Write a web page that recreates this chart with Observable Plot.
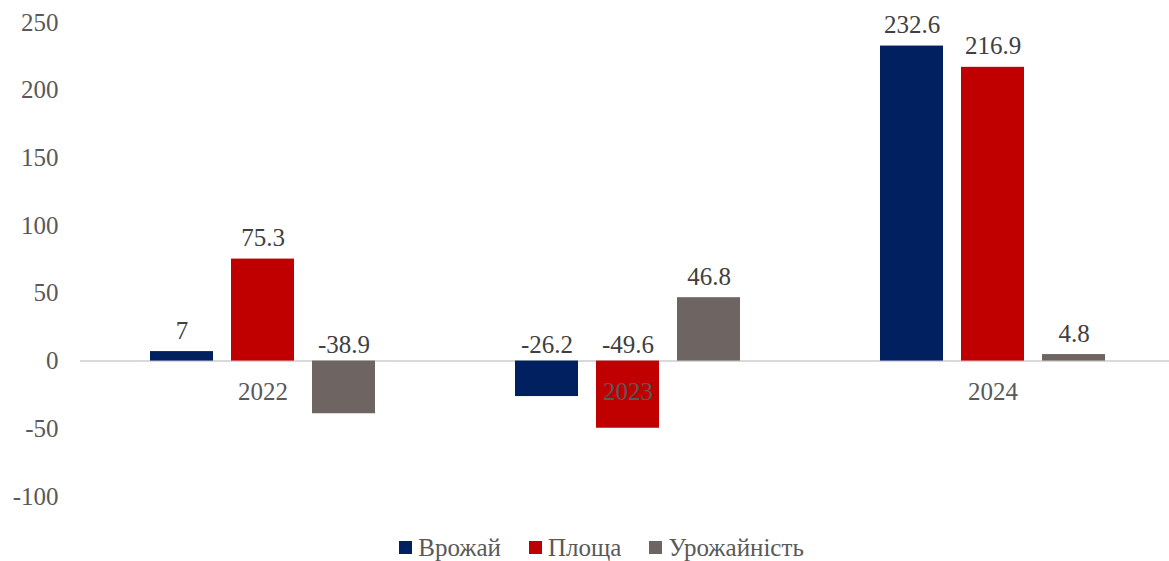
<!DOCTYPE html>
<html>
<head>
<meta charset="utf-8">
<script src="https://cdn.jsdelivr.net/npm/d3@7"></script>
<script src="https://cdn.jsdelivr.net/npm/@observablehq/plot@0.6"></script>
<style>
  html, body { margin: 0; background: #fff; font-family: "Liberation Serif", serif; overflow: hidden; }
  #chart { width: 1169px; height: 526px; overflow: hidden; }
  #chart svg { max-width: none !important; display: block; }
  #legend { width: 1169px; box-sizing: border-box; display: flex; justify-content: center; align-items: center; height: 39px; padding-top: 4px; font-size: 25px; color: #595959; padding-left: 34px; }
  .item { display: flex; align-items: center; margin: 0 14px; }
  .sw { width: 13px; height: 13px; margin-right: 6px; }
</style>
</head>
<body>
<div id="chart"></div>
<div id="legend"></div>
<script>
const years = ["2022", "2023", "2024"];
const seriesNames = ["Врожай", "Площа", "Урожайність"];
const harvest = [7, -26.2, 232.6];
const area = [75.3, -49.6, 216.9];
const yieldVals = [-38.9, 46.8, 4.8];
const colors = ["#002060", "#C00000", "#6E6462"];
const yTicks = [-100, -50, 0, 50, 100, 150, 200, 250];

const seriesValues = [harvest, area, yieldVals];
const data = [];
years.forEach((yr, i) => {
  seriesNames.forEach((s, j) => {
    data.push({year: yr, series: s, value: seriesValues[j][i]});
  });
});

const chart = Plot.plot({
  width: 1176,
  height: 526,
  marginLeft: 79,
  marginRight: 0,
  marginTop: 22,
  marginBottom: 30,
  style: {fontFamily: "Liberation Serif, serif", fontSize: "25px", color: "#595959", background: "#fff", maxWidth: "none"},
  fx: {domain: years, padding: 0, axis: null},
  x: {domain: seriesNames, paddingInner: 0.22, paddingOuter: 0.84, axis: null},
  y: {domain: [-100, 250], ticks: yTicks, tickFormat: d => String(d), tickSize: 0, tickPadding: 22, label: null},
  color: {domain: seriesNames, range: colors},
  marks: [
    Plot.ruleY([0], {stroke: "#d9d9d9", strokeWidth: 2}),
    Plot.barY(data, {fx: "year", x: "series", y: "value", fill: "series"}),
    Plot.text(data.filter(d => d.value >= 0), {fx: "year", x: "series", y: "value", text: d => String(d.value), lineAnchor: "bottom", dy: -13, fill: "#404040"}),
    Plot.text(data.filter(d => d.value < 0), {fx: "year", x: "series", y: 0, text: d => String(d.value), lineAnchor: "bottom", dy: -8, fill: "#404040"}),
    Plot.text(years, {fx: d => d, y: 0, text: d => d, lineAnchor: "middle", dy: 31, fill: "#595959"})
  ]
});
document.getElementById("chart").appendChild(chart);

const legend = document.getElementById("legend");
seriesNames.forEach((s, i) => {
  const it = document.createElement("div");
  it.className = "item";
  it.innerHTML = `<span class="sw" style="background:${colors[i]}"></span><span>${s}</span>`;
  legend.appendChild(it);
});
</script>
</body>
</html>
